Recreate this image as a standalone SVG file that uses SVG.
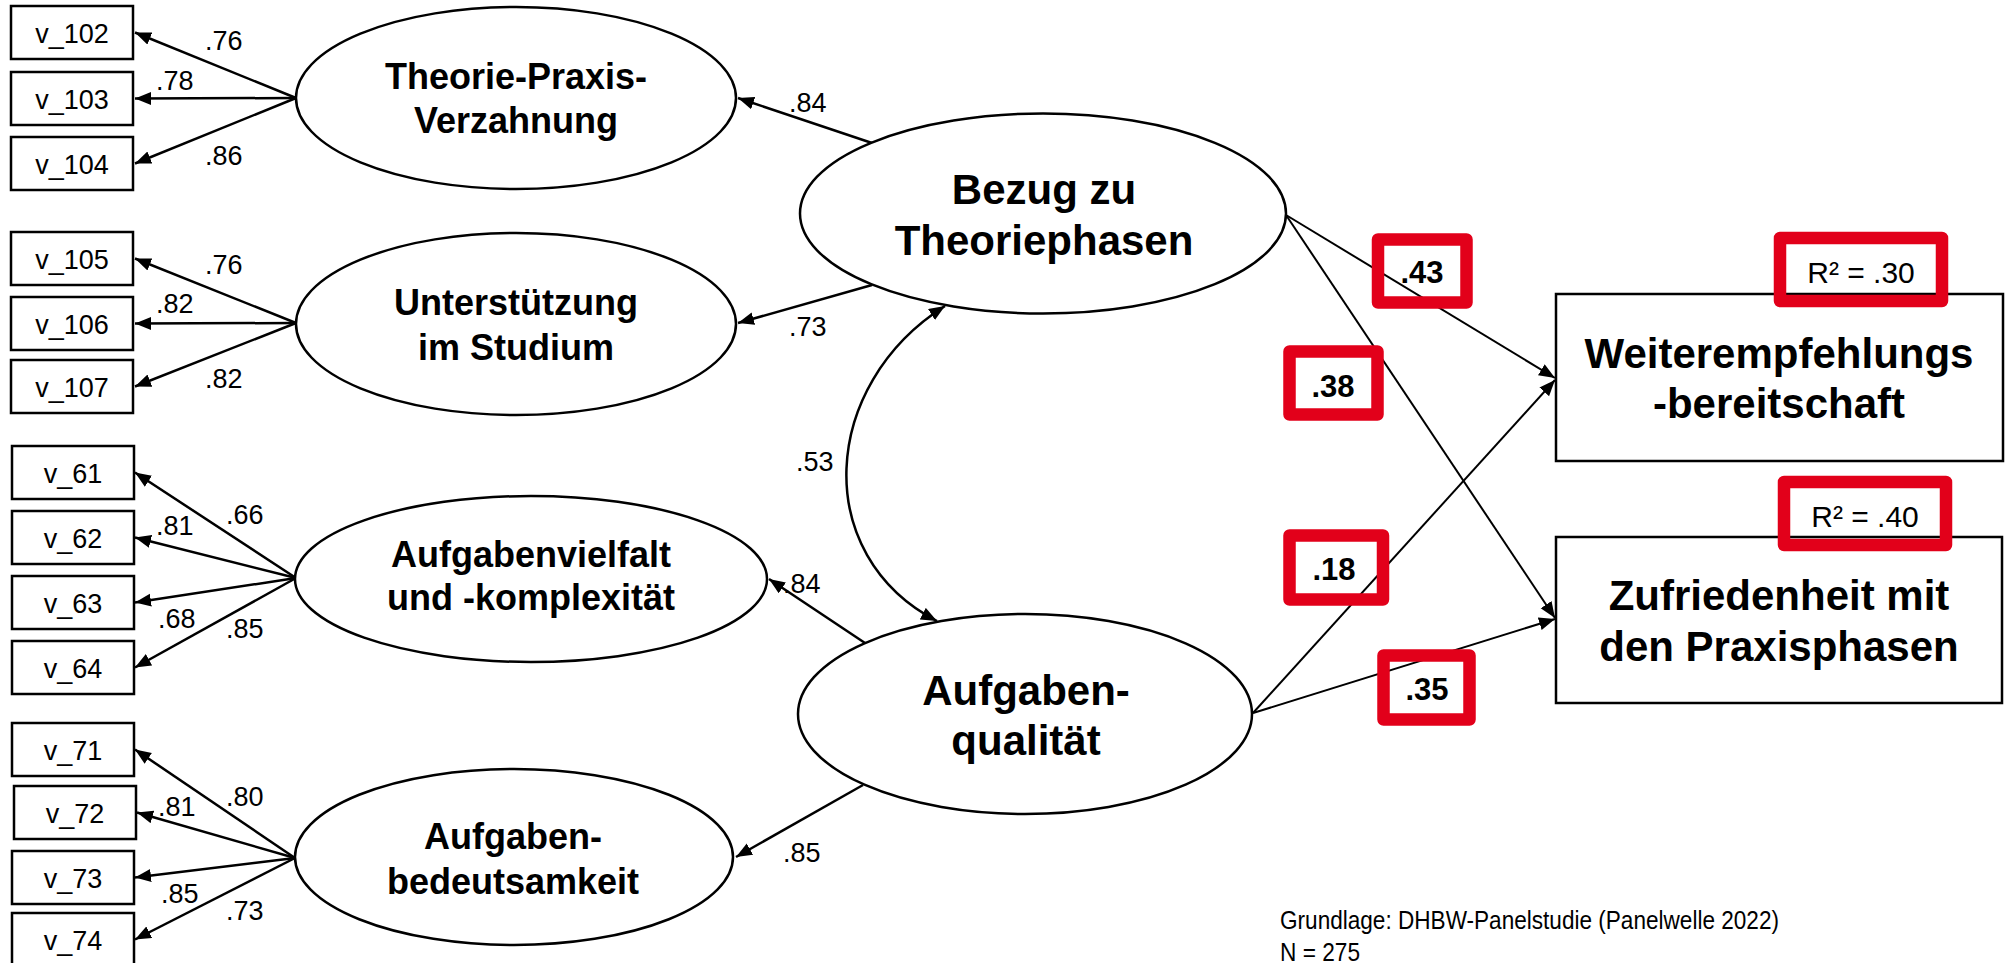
<svg xmlns="http://www.w3.org/2000/svg" width="2008" height="963" viewBox="0 0 2008 963">
<defs>
<marker id="ah" markerUnits="userSpaceOnUse" markerWidth="17" markerHeight="14" refX="16" refY="6.5" orient="auto-start-reverse">
<path d="M0,0 L16,6.5 L0,13 z" fill="#000"/>
</marker>
<style>
.box{fill:#fff;stroke:#000;stroke-width:2.5}
.ell{fill:#fff;stroke:#000;stroke-width:2.5}
.ln{fill:none;stroke:#000;stroke-width:2.5;marker-end:url(#ah)}
.ln2{fill:none;stroke:#000;stroke-width:2;marker-end:url(#ah)}
.red{fill:none;stroke:#E2001A;stroke-width:12.5;stroke-linejoin:round}
.v{font-family:"Liberation Sans",Arial,sans-serif;font-size:27px;text-anchor:middle;fill:#000}
.c{font-family:"Liberation Sans",Arial,sans-serif;font-size:27px;fill:#000}
.b{font-family:"Liberation Sans",Arial,sans-serif;font-weight:bold;font-size:36px;text-anchor:middle;fill:#000}
.bb{font-family:"Liberation Sans",Arial,sans-serif;font-weight:bold;font-size:42px;text-anchor:middle;fill:#000}
.rb{font-family:"Liberation Sans",Arial,sans-serif;font-weight:bold;font-size:31px;text-anchor:middle;fill:#000}
.r2{font-family:"Liberation Sans",Arial,sans-serif;font-size:30px;text-anchor:middle;fill:#000}
.f{font-family:"Liberation Sans",Arial,sans-serif;font-size:26px;fill:#000}
</style>
</defs>
<rect width="2008" height="963" fill="#fff"/>

<g id="connectors">
<line class="ln" x1="296" y1="98" x2="135" y2="32.5"/>
<line class="ln" x1="296" y1="98" x2="135" y2="98.5"/>
<line class="ln" x1="296" y1="98" x2="135" y2="163.5"/>
<line class="ln" x1="296" y1="323" x2="135" y2="258.5"/>
<line class="ln" x1="296" y1="323" x2="135" y2="323.5"/>
<line class="ln" x1="296" y1="323" x2="135" y2="386.5"/>
<line class="ln" x1="296" y1="578" x2="135" y2="472.5"/>
<line class="ln" x1="296" y1="578" x2="135" y2="537.5"/>
<line class="ln" x1="296" y1="578" x2="135" y2="602.5"/>
<line class="ln" x1="296" y1="578" x2="135" y2="667.5"/>
<line class="ln" x1="295" y1="858" x2="135" y2="749.5"/>
<line class="ln" x1="295" y1="858" x2="137" y2="812.5"/>
<line class="ln" x1="295" y1="858" x2="135" y2="877.5"/>
<line class="ln" x1="295" y1="858" x2="135" y2="939.5"/>
<line class="ln" x1="872" y1="143" x2="738" y2="98"/>
<line class="ln" x1="872" y1="285" x2="738" y2="323"/>
<line class="ln" x1="865" y1="643" x2="769" y2="579"/>
<line class="ln" x1="863" y1="785" x2="736" y2="857"/>
<path class="ln" style="marker-start:url(#ah)" d="M945,306 C820,385 810,555 937,621"/>
<line class="ln2" x1="1286" y1="215" x2="1555" y2="378"/>
<line class="ln2" x1="1286" y1="215" x2="1555" y2="618"/>
<line class="ln2" x1="1253" y1="713" x2="1555" y2="380"/>
<line class="ln2" x1="1253" y1="713" x2="1555" y2="619"/>
</g>

<g id="v_102"><rect class="box" x="11" y="6" width="122" height="53"/><text class="v" x="72" y="43">v_102</text></g>
<g id="v_103"><rect class="box" x="11" y="72" width="122" height="53"/><text class="v" x="72" y="109">v_103</text></g>
<g id="v_104"><rect class="box" x="11" y="137" width="122" height="53"/><text class="v" x="72" y="174">v_104</text></g>
<g id="v_105"><rect class="box" x="11" y="232" width="122" height="53"/><text class="v" x="72" y="269">v_105</text></g>
<g id="v_106"><rect class="box" x="11" y="297" width="122" height="53"/><text class="v" x="72" y="334">v_106</text></g>
<g id="v_107"><rect class="box" x="11" y="360" width="122" height="53"/><text class="v" x="72" y="397">v_107</text></g>
<g id="v_61"><rect class="box" x="12" y="446" width="122" height="53"/><text class="v" x="73" y="483">v_61</text></g>
<g id="v_62"><rect class="box" x="12" y="511" width="122" height="53"/><text class="v" x="73" y="548">v_62</text></g>
<g id="v_63"><rect class="box" x="12" y="576" width="122" height="53"/><text class="v" x="73" y="613">v_63</text></g>
<g id="v_64"><rect class="box" x="12" y="641" width="122" height="53"/><text class="v" x="73" y="678">v_64</text></g>
<g id="v_71"><rect class="box" x="12" y="723" width="122" height="53"/><text class="v" x="73" y="760">v_71</text></g>
<g id="v_72"><rect class="box" x="14" y="786" width="122" height="53"/><text class="v" x="75" y="823">v_72</text></g>
<g id="v_73"><rect class="box" x="12" y="851" width="122" height="53"/><text class="v" x="73" y="888">v_73</text></g>
<g id="v_74"><rect class="box" x="12" y="913" width="122" height="60"/><text class="v" x="73" y="950">v_74</text></g>

<g id="tpv"><ellipse class="ell" cx="516" cy="98" rx="220" ry="91"/><text class="b" x="516" y="89">Theorie-Praxis-</text><text class="b" x="516" y="133">Verzahnung</text></g>
<g id="us"><ellipse class="ell" cx="516" cy="324" rx="220" ry="91"/><text class="b" x="516" y="315">Unterstützung</text><text class="b" x="516" y="360">im Studium</text></g>
<g id="avk"><ellipse class="ell" cx="531" cy="579" rx="236" ry="83"/><text class="b" x="531" y="567">Aufgabenvielfalt</text><text class="b" x="531" y="610">und -komplexität</text></g>
<g id="ab"><ellipse class="ell" cx="514" cy="857" rx="219" ry="88"/><text class="b" x="513" y="849">Aufgaben-</text><text class="b" x="513" y="894">bedeutsamkeit</text></g>
<g id="bezug"><ellipse class="ell" cx="1043" cy="213.5" rx="243" ry="100"/><text class="bb" x="1044" y="204">Bezug zu</text><text class="bb" x="1044" y="255">Theoriephasen</text></g>
<g id="aq"><ellipse class="ell" cx="1025" cy="714" rx="227" ry="100"/><text class="bb" x="1026" y="705">Aufgaben-</text><text class="bb" x="1026" y="755">qualität</text></g>
<g id="weiter"><rect class="box" x="1556" y="294" width="447" height="167"/><text class="bb" x="1779" y="368">Weiterempfehlungs</text><text class="bb" x="1779" y="418">-bereitschaft</text></g>
<g id="zufr"><rect class="box" x="1556" y="537" width="446" height="166"/><text class="bb" x="1779" y="610">Zufriedenheit mit</text><text class="bb" x="1779" y="661">den Praxisphasen</text></g>

<g id="labels">
<text class="c" x="205" y="50">.76</text>
<text class="c" x="156" y="90">.78</text>
<text class="c" x="205" y="165">.86</text>
<text class="c" x="205" y="274">.76</text>
<text class="c" x="156" y="313">.82</text>
<text class="c" x="205" y="388">.82</text>
<text class="c" x="226" y="524">.66</text>
<text class="c" x="156" y="535">.81</text>
<text class="c" x="158" y="628">.68</text>
<text class="c" x="226" y="638">.85</text>
<text class="c" x="226" y="806">.80</text>
<text class="c" x="158" y="816">.81</text>
<text class="c" x="161" y="903">.85</text>
<text class="c" x="226" y="920">.73</text>
<text class="c" x="789" y="112">.84</text>
<text class="c" x="789" y="336">.73</text>
<text class="c" x="796" y="471">.53</text>
<text class="c" x="783" y="593">.84</text>
<text class="c" x="783" y="862">.85</text>
</g>

<g id="coef43"><rect class="red" x="1378" y="239.5" width="88.5" height="63"/><text class="rb" x="1422" y="283">.43</text></g>
<g id="coef38"><rect class="red" x="1289.5" y="351.5" width="88" height="63"/><text class="rb" x="1333" y="397">.38</text></g>
<g id="coef18"><rect class="red" x="1289.5" y="535.5" width="93.5" height="64"/><text class="rb" x="1334" y="580">.18</text></g>
<g id="coef35"><rect class="red" x="1383.5" y="655.5" width="86" height="64"/><text class="rb" x="1427" y="700">.35</text></g>
<g id="r2a"><rect class="red" x="1780" y="238" width="162" height="63"/><text class="r2" x="1861" y="283">R² = .30</text></g>
<g id="r2b"><rect class="red" x="1784" y="482" width="162" height="63"/><text class="r2" x="1865" y="527">R² = .40</text></g>

<g id="note">
<text class="f" x="1280" y="929" textLength="499" lengthAdjust="spacingAndGlyphs">Grundlage: DHBW-Panelstudie (Panelwelle 2022)</text>
<text class="f" x="1280" y="961" textLength="80" lengthAdjust="spacingAndGlyphs">N = 275</text>
</g>
</svg>
